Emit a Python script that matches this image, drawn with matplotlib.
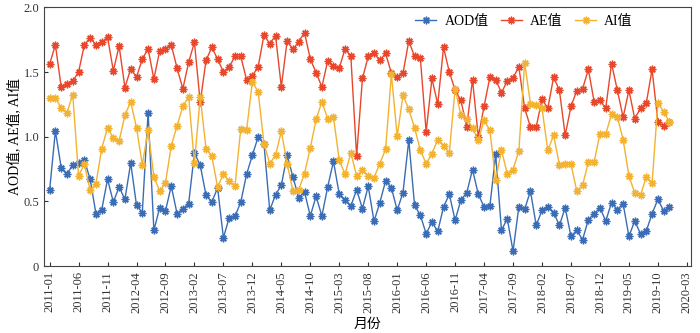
import numpy as np
import pandas as pd
import matplotlib
matplotlib.use('Agg')
import matplotlib.pyplot as plt

# serif latin text, CJK falls back to Noto
plt.rcParams['font.family'] = ['Liberation Serif', 'Noto Sans CJK SC']
plt.rcParams['axes.unicode_minus'] = False

months = pd.period_range('2011-01', '2019-12', freq='M')

aod = [0.586, 1.045, 0.761, 0.715, 0.779, 0.797, 0.818, 0.671, 0.405, 0.436,
       0.671, 0.495, 0.611, 0.516, 0.797, 0.47, 0.413, 1.187, 0.276, 0.451,
       0.426, 0.619, 0.405, 0.444, 0.482, 0.875, 0.779, 0.547, 0.495, 0.604,
       0.219, 0.374, 0.384, 0.495, 0.709, 0.857, 0.998, 0.947, 0.431, 0.552,
       0.624, 0.857, 0.689, 0.529, 0.573, 0.387, 0.539, 0.387, 0.611, 0.81,
       0.555, 0.508, 0.464, 0.59, 0.444, 0.617, 0.346, 0.49, 0.658, 0.606,
       0.431, 0.568, 0.973, 0.47, 0.392, 0.25, 0.341, 0.268, 0.457, 0.555,
       0.353, 0.513, 0.565, 0.746, 0.555, 0.457, 0.464, 0.864, 0.276, 0.366,
       0.116, 0.457, 0.439, 0.58, 0.315, 0.431, 0.457, 0.413, 0.315, 0.451,
       0.23, 0.276, 0.204, 0.359, 0.405, 0.451, 0.348, 0.49, 0.436, 0.482,
       0.23, 0.348, 0.25, 0.271, 0.405, 0.516, 0.426, 0.457]

ae = [1.56, 1.71, 1.385, 1.41, 1.43, 1.50, 1.71, 1.765, 1.71, 1.73,
      1.77, 1.51, 1.70, 1.38, 1.525, 1.46, 1.60, 1.68, 1.445, 1.665,
      1.675, 1.71, 1.53, 1.37, 1.575, 1.73, 1.265, 1.59, 1.69, 1.60,
      1.50, 1.54, 1.62, 1.62, 1.44, 1.47, 1.54, 1.785, 1.72, 1.78,
      1.385, 1.74, 1.675, 1.735, 1.805, 1.60, 1.495, 1.385, 1.585, 1.545,
      1.53, 1.68, 1.62, 0.85, 1.45, 1.62, 1.645, 1.59, 1.645, 1.49,
      1.46, 1.49, 1.74, 1.62, 1.605, 1.037, 1.45, 1.25, 1.69, 1.50,
      1.36, 1.28, 1.076, 1.44, 1.0, 1.235, 1.46, 1.44, 1.34, 1.43,
      1.455, 1.54, 1.22, 1.076, 1.076, 1.29, 1.22, 1.46, 1.36, 1.01,
      1.235, 1.355, 1.37, 1.52, 1.27, 1.28, 1.22, 1.565, 1.36, 1.15,
      1.36, 1.14, 1.22, 1.26, 1.52, 1.115, 1.08, 1.11]

ai = [1.30, 1.30, 1.223, 1.185, 1.326, 0.697, 0.787, 0.586, 0.637, 0.908,
      1.07, 0.99, 0.967, 1.166, 1.27, 1.07, 0.784, 1.05, 0.69, 0.58,
      0.643, 0.93, 1.084, 1.236, 1.308, 0.797, 1.308, 0.908, 0.849, 0.611,
      0.71, 0.658, 0.619, 1.063, 1.05, 1.424, 1.347, 0.947, 0.792, 0.857,
      1.042, 0.792, 0.58, 0.59, 0.715, 0.913, 1.133, 1.27, 1.14, 1.153,
      0.818, 0.71, 0.875, 0.697, 0.74, 0.697, 0.684, 0.792, 0.903, 1.483,
      1.004, 1.32, 1.213, 1.068, 0.895, 0.792, 0.87, 0.978, 0.929, 0.877,
      1.372, 1.166, 1.14, 1.07, 0.973, 1.127, 1.05, 0.663, 0.895, 0.715,
      0.746, 0.89, 1.571, 1.256, 1.244, 1.218, 0.895, 1.011, 0.784, 0.792,
      0.787, 0.58, 0.624, 0.805, 0.805, 1.024, 1.02, 1.174, 1.153, 0.978,
      0.697, 0.565, 0.547, 0.689, 0.642, 1.262, 1.192, 1.115]

# tick every 5 months, running a little past the data
all_months = pd.period_range('2011-01', '2020-03', freq='M')
tick_pos = np.arange(len(all_months))[::5]
tick_labels = [p.strftime('%Y-%m') for p in all_months[::5]]

x = np.arange(len(months))

fig = plt.figure(figsize=(7, 3.33), dpi=100)
ax = fig.add_axes([0.063, 0.201, 0.924, 0.777])

star = (8, 2, 0)
ax.plot(x, aod, color='#3a6db5', lw=1, marker=star, ms=5.5, mew=1, label='AOD值')
ax.plot(x, ae, color='#e8472b', lw=1, marker=star, ms=5.5, mew=1, label='AE值')
ax.plot(x, ai, color='#f3b22f', lw=1, marker=star, ms=5.5, mew=1, label='AI值')

ax.set_xlim(-0.95, 110.7)
ax.set_ylim(0, 2)
ax.set_xticks(tick_pos)
ax.set_xticklabels(tick_labels, rotation=90, fontsize=9)
ax.set_yticks([0, 0.5, 1.0, 1.5, 2.0])
ax.set_yticklabels(['0', '0.5', '1.0', '1.5', '2.0'], fontsize=9)
ax.tick_params(direction='in', length=3, width=0.8, colors='#333333')

for sp in ax.spines.values():
    sp.set_color('#444444')
    sp.set_linewidth(0.8)

ax.set_xlabel('月份', fontsize=10)
ax.set_ylabel('AOD值, AE值, AI值', fontsize=10, labelpad=2)

ax.legend(loc='center', bbox_to_anchor=(0.742, 0.947), ncol=3, frameon=False,
          fontsize=10, handlelength=1.5, columnspacing=0.9, handletextpad=0.6)

fig.savefig('out.png', dpi=100)
